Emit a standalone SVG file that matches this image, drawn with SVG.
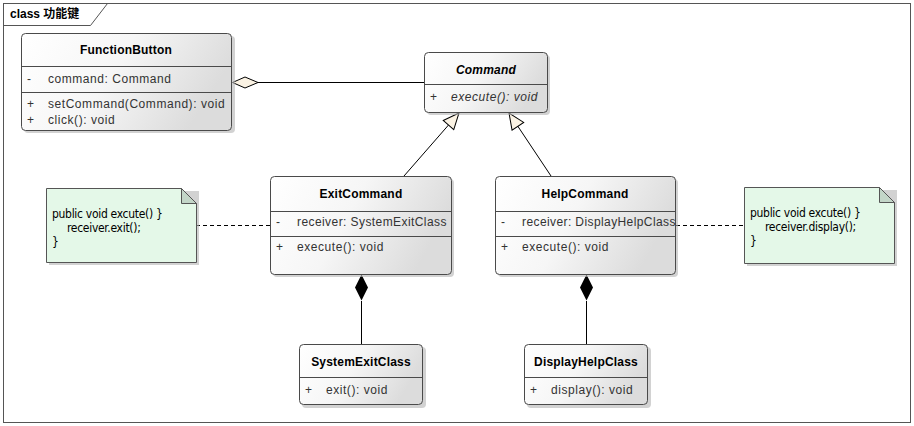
<svg xmlns="http://www.w3.org/2000/svg" width="914" height="426" viewBox="0 0 914 426">
<style>
.box{fill:url(#g);stroke:#4a4a4a;stroke-width:1}
.sh{fill:#b4b4b4;opacity:.6}
.sep{stroke:#4a4a4a;stroke-width:1}
.t{font-family:"Liberation Sans",Arial,sans-serif;font-size:12px;font-weight:bold;fill:#000;text-anchor:middle;letter-spacing:0.2px}
.m{font-family:"Liberation Sans",Arial,sans-serif;font-size:12px;fill:#333;letter-spacing:0.55px}
.i{font-style:italic}
.n{font-family:"DejaVu Sans Condensed","Liberation Sans",sans-serif;font-size:12px;fill:#000;letter-spacing:-0.3px}
.note{fill:#e4f8e8;stroke:#555;stroke-width:1}
.fold{fill:#c3d6c8;stroke:#555;stroke-width:1}
.ln{stroke:#000;stroke-width:1;fill:none}
.dash{stroke:#000;stroke-width:1;stroke-dasharray:4,3;fill:none}
</style>
<defs>
<linearGradient id="g" x1="0" y1="0" x2="1" y2="0.3">
<stop offset="0" stop-color="#ffffff"/>
<stop offset="0.5" stop-color="#f6f6f6"/>
<stop offset="1" stop-color="#dcdcdc"/>
</linearGradient>
<marker id="tri" markerWidth="18" markerHeight="16" refX="17" refY="8" orient="auto" markerUnits="userSpaceOnUse">
<path d="M1,1 L17,8 L1,15 Z" fill="#fbf3e4" stroke="#000" stroke-width="1"/>
</marker>
</defs>
<rect x="0" y="0" width="914" height="426" fill="#fff"/>
<g id="frame">
<rect x="3.5" y="3.5" width="907" height="419" fill="none" stroke="#555"/>
<path d="M3.5,25.5 H90.5 L107.5,3.5" fill="none" stroke="#555"/>
<text x="10" y="18" style="font-family:'Liberation Sans','Noto Sans CJK SC',sans-serif;font-size:12px;font-weight:bold">class 功能键</text>
</g>
<g id="connectors">
<line class="ln" x1="258" y1="82.5" x2="424" y2="82.5"/>
<path d="M232.5,82.5 L245,77 L258,82.5 L245,88 Z" fill="#fbf3e4" stroke="#000"/>
<line class="ln" x1="404" y1="176" x2="459" y2="113" marker-end="url(#tri)"/>
<line class="ln" x1="551" y1="176" x2="509" y2="113" marker-end="url(#tri)"/>
<line class="ln" x1="361.5" y1="301" x2="361.5" y2="344"/>
<path d="M361.5,274.5 L368,287.5 L361.5,300.5 L355,287.5 Z" fill="#000"/>
<line class="ln" x1="586.5" y1="301" x2="586.5" y2="344" stroke="#555"/>
<path d="M586.5,274.5 L593,287.5 L586.5,300.5 L580,287.5 Z" fill="#000"/>
<line class="dash" x1="196" y1="225.5" x2="270" y2="225.5"/>
<line class="dash" x1="676" y1="225.5" x2="745" y2="225.5"/>
</g>
<g id="FunctionButton">
<rect class="sh" x="24" y="36" width="211" height="97" rx="4"/>
<rect class="box" x="21.5" y="33.5" width="210" height="97" rx="4"/>
<line class="sep" x1="21.5" y1="66.5" x2="231.5" y2="66.5"/>
<line class="sep" x1="21.5" y1="92.5" x2="231.5" y2="92.5"/>
<text class="t" x="126" y="54">FunctionButton</text>
<text class="m" x="27" y="83">-</text><text class="m" x="48" y="83">command: Command</text>
<text class="m" x="27" y="108">+</text><text class="m" x="48" y="108">setCommand(Command): void</text>
<text class="m" x="27" y="124">+</text><text class="m" x="48" y="124">click(): void</text>
</g>
<g id="Command">
<rect class="sh" x="427" y="55" width="123" height="60" rx="4"/>
<rect class="box" x="424.5" y="52.5" width="123" height="60" rx="4"/>
<line class="sep" x1="424.5" y1="84.5" x2="547.5" y2="84.5"/>
<text class="t i" x="486" y="74">Command</text>
<text class="m" x="430" y="101">+</text><text class="m i" x="451" y="101">execute(): void</text>
</g>
<g id="ExitCommand">
<rect class="sh" x="273" y="179" width="181" height="98" rx="4"/>
<rect class="box" x="270.5" y="176.5" width="181" height="98" rx="4"/>
<line class="sep" x1="270.5" y1="211.5" x2="451.5" y2="211.5"/>
<line class="sep" x1="270.5" y1="236.5" x2="451.5" y2="236.5"/>
<text class="t" x="361" y="198">ExitCommand</text>
<text class="m" x="276" y="226">-</text><text class="m" x="297" y="226" textLength="150" lengthAdjust="spacing">receiver: SystemExitClass</text>
<text class="m" x="276" y="251">+</text><text class="m" x="297" y="251">execute(): void</text>
</g>
<g id="HelpCommand">
<rect class="sh" x="498" y="179" width="180" height="98" rx="4"/>
<rect class="box" x="495.5" y="176.5" width="180" height="98" rx="4"/>
<line class="sep" x1="495.5" y1="211.5" x2="675.5" y2="211.5"/>
<line class="sep" x1="495.5" y1="236.5" x2="675.5" y2="236.5"/>
<text class="t" x="585" y="198">HelpCommand</text>
<text class="m" x="501" y="226">-</text><text class="m" x="522" y="226" textLength="154" lengthAdjust="spacing">receiver: DisplayHelpClass</text>
<text class="m" x="501" y="251">+</text><text class="m" x="522" y="251">execute(): void</text>
</g>
<g id="SystemExitClass">
<rect class="sh" x="302" y="347" width="124" height="61" rx="4"/>
<rect class="box" x="299.5" y="344.5" width="123" height="60" rx="4"/>
<line class="sep" x1="299.5" y1="377.5" x2="422.5" y2="377.5"/>
<text class="t" x="361" y="366">SystemExitClass</text>
<text class="m" x="305" y="394">+</text><text class="m" x="326" y="394">exit(): void</text>
</g>
<g id="DisplayHelpClass">
<rect class="sh" x="527" y="347" width="124" height="61" rx="4"/>
<rect class="box" x="524.5" y="344.5" width="123" height="60" rx="4"/>
<line class="sep" x1="524.5" y1="377.5" x2="647.5" y2="377.5"/>
<text class="t" x="586" y="366">DisplayHelpClass</text>
<text class="m" x="530" y="394">+</text><text class="m" x="551" y="394">display(): void</text>
</g>
<g id="note1">
<path d="M49,191 H199 V265 H49 Z" fill="#b4b4b4" opacity=".6"/>
<path class="note" d="M46.5,188.5 H181.5 L196.5,203.5 V262.5 H46.5 Z"/>
<path class="fold" d="M181.5,188.5 V203.5 H196.5 Z"/>
<text class="n" x="52" y="218">public void excute() }</text>
<text class="n" x="67" y="232">receiver.exit();</text>
<text class="n" x="52" y="246">}</text>
</g>
<g id="note2">
<path d="M747,190 H897 V266 H747 Z" fill="#b4b4b4" opacity=".6"/>
<path class="note" d="M744.5,187.5 H879.5 L894.5,202.5 V263.5 H744.5 Z"/>
<path class="fold" d="M879.5,187.5 V202.5 H894.5 Z"/>
<text class="n" x="750" y="217">public void excute() }</text>
<text class="n" x="765" y="231">receiver.display();</text>
<text class="n" x="750" y="245">}</text>
</g>
</svg>
